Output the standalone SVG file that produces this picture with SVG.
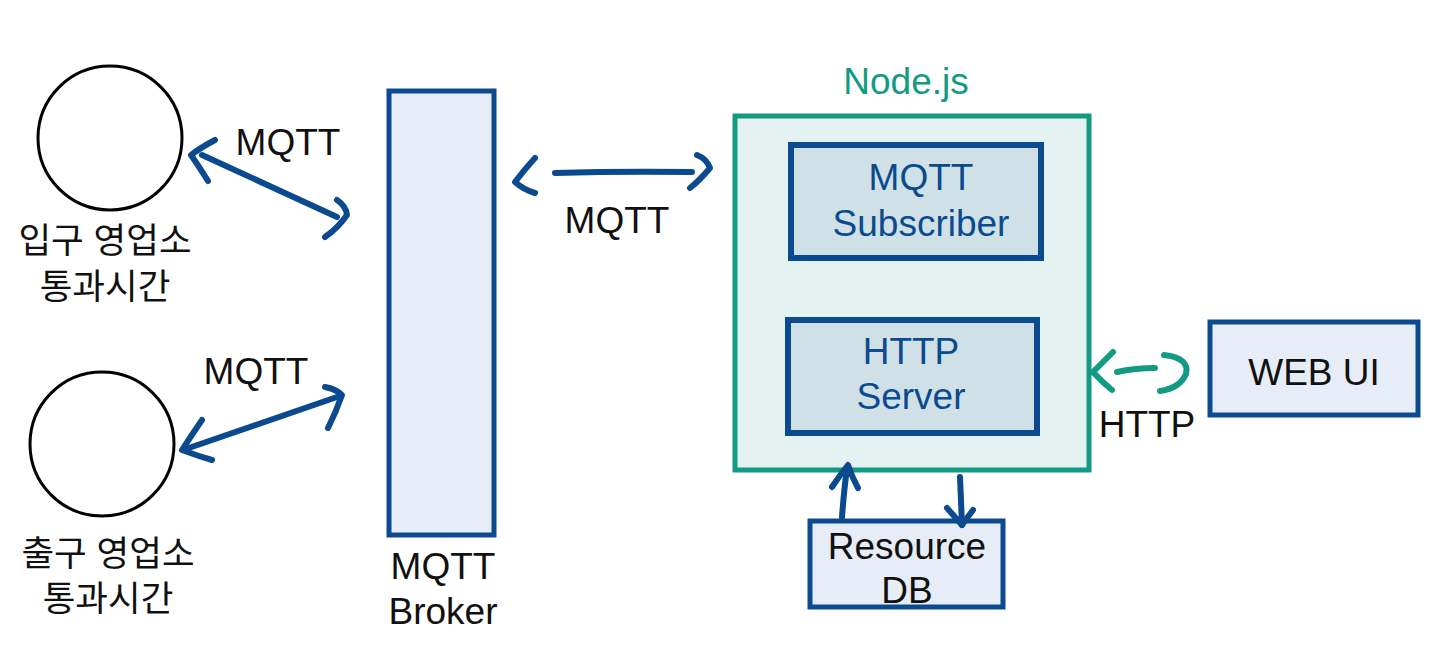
<svg xmlns="http://www.w3.org/2000/svg" width="1440" height="651" viewBox="0 0 1440 651">
<style>
.t{font-family:"Liberation Sans",Arial,"Noto Sans CJK KR",sans-serif;font-size:37px;text-anchor:middle;fill:#111}
.k{font-family:"Liberation Sans","Noto Sans CJK KR",sans-serif;font-size:35.5px;text-anchor:middle;fill:#111}
.blue{fill:#0b4a8f}
.teal{fill:#129a82}
.box{fill:#e7edf6;stroke:#0b4a8f;stroke-width:5}
.inner{fill:#cfe1e7;stroke:#0b4a8f;stroke-width:6}
.a{fill:none;stroke:#0b4a8f;stroke-width:6;stroke-linecap:round;stroke-linejoin:round}
.at{fill:none;stroke:#129a82;stroke-width:6;stroke-linecap:round;stroke-linejoin:round}
</style>
<rect width="1440" height="651" fill="#fff"/>
<g id="entry">
<circle cx="110" cy="138" r="72" fill="#fff" stroke="#000" stroke-width="3"/>
<text class="k" x="105" y="253">입구 영업소</text>
<text class="k" x="105" y="299">통과시간</text>
</g>
<g id="exit">
<circle cx="102" cy="444" r="72" fill="#fff" stroke="#000" stroke-width="3"/>
<text class="k" x="108" y="566">출구 영업소</text>
<text class="k" x="108" y="611">통과시간</text>
</g>
<g id="broker">
<rect class="box" x="389" y="91" width="105" height="444"/>
<text class="t" x="443" y="579">MQTT</text>
<text class="t" x="443" y="624">Broker</text>
</g>
<g id="nodejs">
<rect x="735" y="116" width="354" height="354" fill="#e4f2f1" stroke="#129a82" stroke-width="5"/>
<text class="t teal" x="906" y="94">Node.js</text>
</g>
<g id="subscriber">
<rect class="inner" x="791" y="145" width="250" height="113"/>
<text class="t blue" x="921" y="190">MQTT</text>
<text class="t blue" x="921" y="236">Subscriber</text>
</g>
<g id="httpserver">
<rect class="inner" x="788" y="320" width="249" height="113"/>
<text class="t blue" x="911" y="364">HTTP</text>
<text class="t blue" x="911" y="409">Server</text>
</g>
<g id="webui">
<rect class="box" x="1210" y="322" width="208" height="93"/>
<text class="t" x="1314" y="385">WEB UI</text>
</g>
<g id="db">
<rect class="box" x="810" y="521" width="193" height="86"/>
<text class="t" x="907" y="559">Resource</text>
<text class="t" x="907" y="603">DB</text>
</g>
<g id="connectors">
<path class="a" d="M202 155 L337 217"/>
<path class="a" d="M215 140 Q200 148 191 155 Q200 168 208 181"/>
<path class="a" d="M337 200 Q346 206 347 215 Q338 228 325 237"/>
<path class="a" d="M183 450 L337 397"/>
<path class="a" d="M202 420 Q191 436 182 450 Q198 456 212 460"/>
<path class="a" d="M325 387 Q336 389 342 395 Q336 412 328 428"/>
<path class="a" d="M555 173 Q620 171 692 172"/>
<path class="a" d="M535 158 Q524 170 515 182 Q524 190 535 193"/>
<path class="a" d="M697 155 Q707 159 710 168 Q700 180 690 188"/>
<path class="at" d="M1117 372 Q1135 368 1155 368"/>
<path class="at" d="M1113 352 Q1102 363 1093 372 Q1102 382 1112 390"/>
<path class="at" d="M1164 355 Q1190 358 1186 374 Q1180 388 1160 391"/>
<path class="a" d="M842 517 Q844 490 847 468"/>
<path class="a" d="M832 487 Q840 475 848 465 Q852 477 858 488"/>
<path class="a" d="M960 477 Q961 500 962 525"/>
<path class="a" d="M947 508 Q955 517 962 525 Q967 518 973 510"/>
<text class="t" x="288" y="155">MQTT</text>
<text class="t" x="617" y="233">MQTT</text>
<text class="t" x="256" y="384">MQTT</text>
<text class="t" x="1147" y="437">HTTP</text>
</g>
</svg>
